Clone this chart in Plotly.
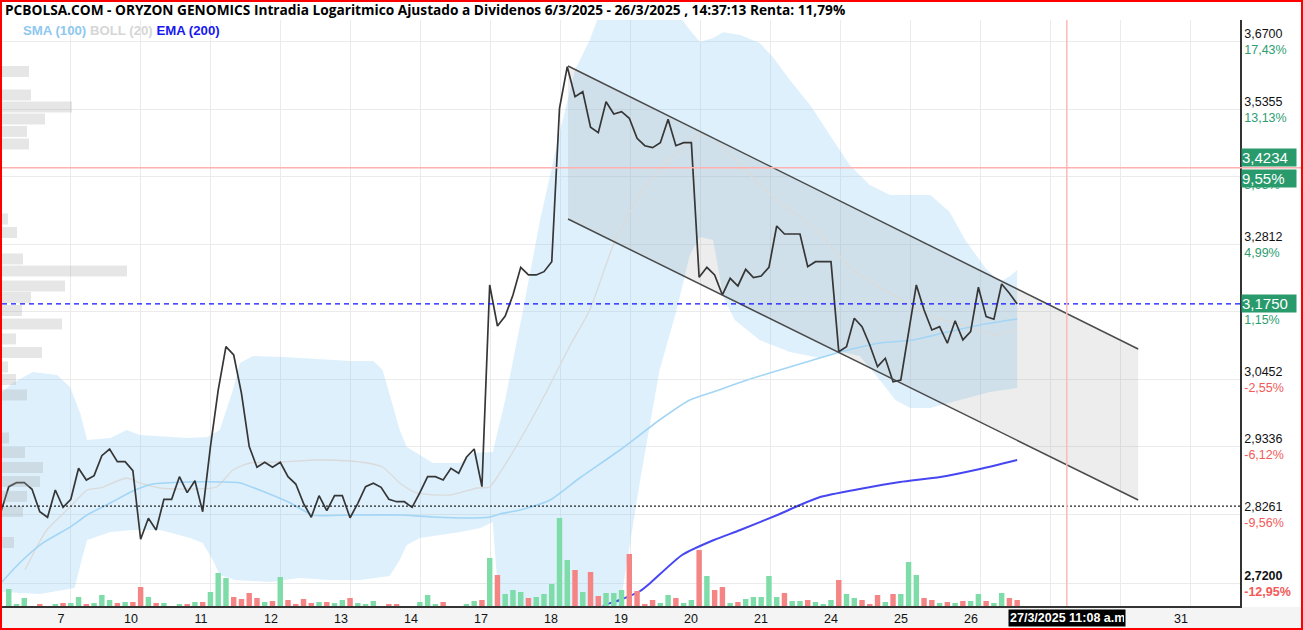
import math
import plotly.graph_objects as go

# ---------------- data ----------------
# hourly closes, bar index 0..131 (6/3/2025 .. 26/3/2025 14:37)
price = [2.8303, 2.8698, 2.8761, 2.8761, 2.8656, 2.8303, 2.8216, 2.8645, 2.8372, 2.8498,
         2.8991, 2.8804, 2.8873, 2.9194, 2.9302, 2.9097, 2.9097, 2.8953, 2.7875, 2.8200,
         2.8018, 2.8498, 2.8498, 2.8857, 2.8603, 2.8793, 2.8303, 2.9340, 3.0274, 3.1008,
         3.0866, 3.0219, 2.9340, 2.9007, 2.9087, 2.9007, 2.9087, 2.8857, 2.8740, 2.8435,
         2.8216, 2.8555, 2.8319, 2.8555, 2.8555, 2.8209, 2.8435, 2.8698, 2.8752, 2.8688,
         2.8498, 2.8460, 2.8460, 2.8372, 2.8603, 2.8857, 2.8857, 2.8804, 2.8991, 2.8911,
         2.9168, 2.9302, 2.8698, 3.2085, 3.1365, 3.1539, 3.1908, 3.2400, 3.2263, 3.2263,
         3.2322, 3.2501, 3.5379, 3.6202, 3.5606, 3.5705, 3.5009, 3.4904, 3.5508, 3.5267,
         3.5312, 3.5184, 3.4797, 3.4654, 3.4616, 3.4712, 3.5164, 3.4654, 3.4712, 3.4712,
         3.2222, 3.2400, 3.2263, 3.1908, 3.2203, 3.2067, 3.2364, 3.2215, 3.2245, 3.2400,
         3.3149, 3.3002, 3.3002, 3.3002, 3.2411, 3.2501, 3.2501, 3.2501, 3.0923, 3.1008,
         3.1499, 3.1353, 3.1037, 3.0667, 3.0810, 3.0413, 3.0442, 3.1239, 3.2085, 3.1644,
         3.1296, 3.1353, 3.1067, 3.1457, 3.1124, 3.1267, 3.2044, 3.1527, 3.1482, 3.2102,
         3.1938, 3.1750]

volume = [0, 17, 2, 8, 0, 2, 0, 2, 3, 3, 9, 2, 3, 11, 6, 3, 4, 4, 19, 9,
          3, 3, 0, 2, 2, 4, 4, 14, 33, 28, 9, 7, 13, 8, 4, 5, 29, 6, 2, 7,
          3, 4, 4, 3, 6, 8, 3, 2, 5, 0, 2, 2, 0, 0, 4, 11, 2, 4, 0, 0,
          2, 5, 6, 48, 31, 12, 16, 14, 8, 9, 12, 22, 88, 46, 36, 14, 34, 10, 13, 13,
          16, 52, 15, 2, 6, 3, 11, 8, 3, 6, 56, 30, 16, 19, 3, 4, 7, 9, 9, 30,
          9, 13, 5, 5, 6, 4, 2, 6, 26, 12, 8, 6, 2, 11, 4, 12, 12, 44, 31, 8,
          6, 3, 4, 3, 5, 5, 12, 5, 3, 13, 8, 6]

vol_up = [1, 1, 1, 1, 1, 0, 1, 1, 0, 1, 1, 0, 1, 1, 1, 0, 1, 0, 0, 1,
          0, 1, 1, 1, 0, 1, 0, 1, 1, 1, 0, 0, 0, 0, 1, 0, 1, 0, 0, 0,
          0, 1, 0, 1, 1, 0, 1, 1, 1, 1, 0, 0, 1, 1, 1, 1, 1, 0, 1, 1,
          1, 1, 0, 1, 0, 1, 1, 1, 0, 1, 1, 1, 1, 1, 0, 1, 0, 0, 1, 1,
          1, 0, 0, 0, 0, 1, 1, 0, 1, 1, 0, 1, 0, 0, 1, 0, 1, 1, 1, 1,
          1, 0, 1, 1, 0, 1, 1, 1, 0, 1, 1, 0, 0, 0, 1, 0, 1, 1, 1, 0,
          0, 1, 0, 1, 0, 1, 1, 0, 1, 1, 0, 0]

# Bollinger (20) upper / lower / middle, SMA(100), EMA(200) sampled at bar index
boll_up_x = [0, 1.5, 4.1, 7.2, 8.9, 10.2, 11.1, 14.1, 16.2, 17.9, 24, 26.6, 28.2, 29.9, 30.8,
             32.5, 36.4, 40.7, 45, 48, 49.2, 51.4, 52.3, 55.7, 59.2, 60.8, 63.4, 65, 67.3, 69.5,
             72.1, 74, 75.9, 77.2, 79.8, 83.7, 86.9, 88.8, 90.1, 91.8, 93.1, 95.3, 97.8, 99.5,
             101.7, 104.3, 106.9, 109.4, 112, 114.6, 117.2, 119.8, 122.3, 124.3, 126.9, 128.8,
             130.1, 131]
boll_up = [3.0224, 3.0392, 3.0577, 3.0527, 3.0325, 2.9891, 2.9448, 2.9480, 2.9612, 2.9530,
           2.9480, 2.9497, 2.9612, 3.0274, 3.0730, 3.0849, 3.0832, 3.0798, 3.0764, 3.0764,
           3.0611, 2.9612, 2.9334, 2.9076, 2.9076, 2.9238, 2.9254, 3.0107, 3.1644, 3.3259,
           3.4957, 3.6136, 3.6741, 3.73, 3.755, 3.755, 3.735, 3.6944, 3.67, 3.678,
           3.690, 3.684, 3.668, 3.6397, 3.5936, 3.5443, 3.4860, 3.4287, 3.3909, 3.3723,
           3.3723, 3.3723, 3.3406, 3.2894, 3.2388, 3.2138, 3.2245, 3.2352]

boll_lo_x = [0, 5, 9.5, 10.4, 11.1, 14.1, 17, 20.5, 24.4, 26, 27.3, 28.2, 30.2, 34.7, 38.5,
             42.4, 46.3, 50.1, 51.4, 52.3, 54, 56.6, 59.2, 61.8, 63.4, 64.3, 66.9, 72.1, 77.2,
             79.8, 82.4, 84.9, 87.1, 88.8, 90.1, 91.8, 93.1, 94.6, 97.8, 101.7, 105.6, 108.2,
             110.7, 113.3, 115.3, 117.2, 119.8, 123.6, 127.5, 131]
boll_lo = [2.7074, 2.7044, 2.7134, 2.7557, 2.7864, 2.7987, 2.8018, 2.8018, 2.7895, 2.7818,
           2.7557, 2.7330, 2.7254, 2.7224, 2.7284, 2.7254, 2.7254, 2.7314, 2.7557, 2.7787,
           2.7895, 2.7941, 2.7987, 2.8049, 2.8143, 2.670, 2.59, 2.55, 2.59, 2.6865,
           2.8804, 3.0611, 3.1644, 3.2622, 3.2948, 3.2894, 3.1872, 3.1469, 3.1123, 3.0917,
           3.0815, 3.0917, 3.0849, 3.0442, 3.0107, 2.9974, 2.9974, 3.0107, 3.0241, 3.0308]

boll_mid_x = [3.1, 4.4, 5.9, 8.9, 11.1, 12.8, 16.2, 17.9, 20.5, 24, 27.8, 29.9, 32.1, 36.4,
              40.7, 45, 47.2, 49.2, 51.4, 53.6, 57.9, 61.4, 63, 64.3, 66.9, 70.1, 73.4, 75.9,
              79.2, 83, 87.1, 90.1, 91.8, 96.2, 100.4, 104.7, 109.8, 115.5, 120.2, 124, 128.4, 131]
boll_mid = [2.7405, 2.7710, 2.8018, 2.8377, 2.8645, 2.8677, 2.8836, 2.8757, 2.8677, 2.8661,
            2.8693, 2.8964, 2.9076, 2.9092, 2.9124, 2.9108, 2.9076, 2.9012, 2.8757, 2.8598,
            2.8566, 2.8677, 2.8693, 2.8916, 2.9448, 3.0191, 3.1037, 3.1644, 3.2894, 3.3872,
            3.4515, 3.4879, 3.4802, 3.4154, 3.3573, 3.3131, 3.2352, 3.1872, 3.1522, 3.1383,
            3.1209, 3.1313]

sma_x = [0, 2.4, 5.4, 8.9, 11.1, 14.1, 17, 19.6, 24, 28.6, 30.8, 34.3, 37.3, 40.2, 45, 51.4,
         55.7, 60.1, 63, 64.3, 66.9, 70.8, 74.6, 79.8, 84.9, 88.8, 91.8, 96.2, 100.4, 104.7,
         108.2, 113.3, 117.6, 122, 126.2, 131]
sma_100 = [2.7209, 2.7511, 2.7818, 2.8064, 2.8252, 2.8440, 2.8629, 2.8740, 2.8772, 2.8772,
           2.8757, 2.8598, 2.8440, 2.8252, 2.8252, 2.8252, 2.8221, 2.8205, 2.8221, 2.8268,
           2.8330, 2.8487, 2.8836, 2.9286, 2.9776, 3.0107, 3.0241, 3.0442, 3.0611, 3.0781,
           3.0917, 3.1072, 3.1123, 3.1261, 3.1383, 3.1487]

ema_x = [74, 77.7, 79.8, 82.4, 83.7, 87.8, 91.9, 95.3, 100.4, 103, 105.6, 110.7, 115.9, 121.1, 126.2, 131]
ema_200 = [2.6325, 2.6865, 2.6954, 2.7089, 2.7209, 2.7634, 2.7864, 2.8018, 2.8268, 2.8409,
           2.8535, 2.8661, 2.8772, 2.8852, 2.8980, 2.9124]

# descending channel (bar index, price)
chan_x = [73.1, 146.6]
chan_upper = [3.6216, 3.0969]
chan_lower = [3.3277, 2.8487]

# volume profile on the left (price level, volume)
vp_price = [3.6106, 3.5640, 3.5404, 3.5170, 3.4928, 3.4687, 3.3278, 3.3030, 3.2550, 3.2335,
            3.2067, 3.1864, 3.1635, 3.1400, 3.1141, 3.0909, 3.0662, 3.0451, 3.0191, 2.9481,
            2.9246, 2.9004, 2.8780, 2.8543, 2.8307, 2.7825]
vp_vol = [27, 29, 70, 43, 25, 27, 6, 15, 21, 125, 63, 29, 20, 60, 14, 40, 6, 14, 25, 7,
          23, 41, 38, 25, 21, 12]

last_price = 3.1750
last_tag = "3,1750"
ref_high = 3.4234
ref_high_tag = "3,4234"
ref_high_pct = "9,55%"
ref_low = 2.8390
now_x = 137.4
now_label = "27/3/2025 11:08 a.m."

# day labels under the grid; 27 and 28 are hidden under the date box in the reference
day_labels = ["7", "10", "11", "12", "13", "14", "17", "18", "19", "20", "21", "24", "25",
              "26", "", "", "31"]

y_ticks = [3.67, 3.5355, 3.4060, 3.2812, 3.1609, 3.0452, 2.9336, 2.8261, 2.72]
# price texts of 3.4060 and 3.1609 are fully covered by the price tags in the reference
y_tick_num = ["3,6700", "3,5355", " ", "3,2812", " ", "3,0452", "2,9336", "2,8261", "2,7200"]
y_tick_pct = ["17,43%", "13,13%", "8,98%", "4,99%", "1,15%", "-2,55%", "-6,12%", "-9,56%", "-12,95%"]

title_text = ("PCBOLSA.COM - ORYZON GENOMICS Intradia Logaritmico Ajustado a Dividenos "
              "6/3/2025 - 26/3/2025 , 14:37:13 Renta: 11,79%")

# ---------------- figure ----------------
W, H = 1303, 630
ML, MR, MT, MB = 2, 63, 20, 24
PW, PH = W - ML - MR, H - MT - MB
BAR_PX = 7.757          # pixels per hourly bar
DAY_PX = 70             # pixels per trading day
x_lo = (ML - 1) / BAR_PX
x_hi = (ML + PW - 1) / BAR_PX
day_ticks = [(DAY_PX * k - 1) / BAR_PX for k in range(1, len(day_labels) + 1)]

GREEN_T = "#2e9d70"
GREEN_TAG = "#289a6c"
RED_T = "#f25a5a"
FONT = "Liberation Sans"

fig = go.Figure()

# Bollinger band fill
fig.add_trace(go.Scatter(
    x=boll_up_x + boll_lo_x[::-1], y=boll_up + boll_lo[::-1],
    fill="toself", fillcolor="rgba(130,198,245,0.27)", mode="lines",
    line=dict(width=0), hoverinfo="skip"))

# channel fill
fig.add_trace(go.Scatter(
    x=[chan_x[0], chan_x[1], chan_x[1], chan_x[0]],
    y=[chan_upper[0], chan_upper[1], chan_lower[1], chan_lower[0]],
    fill="toself", fillcolor="rgba(140,140,140,0.16)", mode="lines",
    line=dict(width=0), hoverinfo="skip"))

fig.add_trace(go.Scatter(x=boll_mid_x, y=boll_mid, mode="lines",
                         line=dict(color="#dadada", width=1.3, shape="spline", smoothing=0.6)))
fig.add_trace(go.Scatter(x=sma_x, y=sma_100, mode="lines",
                         line=dict(color="#a3d5f5", width=1.6, shape="spline", smoothing=0.6)))
fig.add_trace(go.Scatter(x=ema_x, y=ema_200, mode="lines",
                         line=dict(color="#4646f2", width=2, shape="spline", smoothing=0.6)))

fig.add_trace(go.Scatter(x=list(range(len(price))), y=price, mode="lines",
                         line=dict(color="#363636", width=1.7)))

fig.add_trace(go.Scatter(x=chan_x, y=chan_upper, mode="lines", line=dict(color="#4a4a4a", width=1.5)))
fig.add_trace(go.Scatter(x=chan_x, y=chan_lower, mode="lines", line=dict(color="#4a4a4a", width=1.5)))

# volume bars (overlaid axis)
fig.add_trace(go.Bar(
    x=list(range(len(volume))), y=volume, yaxis="y2", width=0.7,
    marker=dict(color=["#7ddca8" if u else "#f58484" for u in vol_up], line=dict(width=0))))

# volume profile (overlaid x axis)
vpx, vpy = [], []
for p, v in zip(vp_price, vp_vol):
    vpx += [0, v, None]
    vpy += [p, p, None]
fig.add_trace(go.Scatter(x=vpx, y=vpy, xaxis="x3", mode="lines",
                         line=dict(color="rgba(165,165,165,0.28)", width=11), hoverinfo="skip"))

tick_text = []
for i, (n, p) in enumerate(zip(y_tick_num, y_tick_pct)):
    col = GREEN_T if not p.startswith("-") else RED_T
    if i == len(y_tick_num) - 1:
        tick_text.append(f"<b>{n}</b><br><span style='color:{col}'><b>{p}</b></span>")
    else:
        tick_text.append(f"{n}<br><span style='color:{col}'>{p}</span>")

fig.update_layout(
    width=W, height=H, margin=dict(l=ML, r=MR, t=MT, b=MB),
    paper_bgcolor="white", plot_bgcolor="white", showlegend=False,
    font=dict(family=FONT, size=12.5, color="#111"),
    xaxis=dict(range=[x_lo, x_hi], tickvals=day_ticks, ticktext=day_labels, ticklabelshift=-9,
               showgrid=True, gridcolor="#ebebeb", gridwidth=1, zeroline=False,
               showline=True, linecolor="#333", linewidth=1.5, ticks="",
               tickfont=dict(family=FONT, size=12.5, color="#111")),
    yaxis=dict(type="log", range=[math.log10(2.6865), math.log10(3.7149)], side="right",
               tickvals=y_ticks, ticktext=tick_text, showgrid=True, gridcolor="#ebebeb",
               zeroline=False, showline=True, linecolor="#333", linewidth=1.5, ticks="",
               tickfont=dict(family=FONT, size=12.5, color="#111")),
    yaxis2=dict(overlaying="y", range=[0, PH], visible=False),
    xaxis3=dict(overlaying="x", range=[0, PW], visible=False),
)

def px_x(px):
    return (px - ML) / PW

def px_y(py):
    return (H - MB - py) / PH

shapes = [
    # x-axis label strip
    dict(type="rect", xref="paper", yref="paper", x0=px_x(0), x1=px_x(W), y0=px_y(H), y1=px_y(607),
         fillcolor="#f4f4f4", line=dict(width=0), layer="below"),
    dict(type="line", xref="paper", yref="y", x0=0, x1=px_x(W), y0=ref_high, y1=ref_high,
         line=dict(color="#ffb0b0", width=1.5)),
    dict(type="line", xref="paper", yref="y", x0=0, x1=1, y0=last_price, y1=last_price,
         line=dict(color="#1010ff", width=1.3, dash="5px,4px")),
    dict(type="line", xref="paper", yref="y", x0=0, x1=1, y0=ref_low, y1=ref_low,
         line=dict(color="#222", width=1.3, dash="2px,2px")),
    dict(type="line", xref="x", yref="paper", x0=now_x, x1=now_x, y0=0, y1=1,
         line=dict(color="#ffb8b8", width=1.5)),
    # outer red border
    dict(type="rect", xref="paper", yref="paper", x0=px_x(1), x1=px_x(W - 1), y0=px_y(H - 1), y1=px_y(1),
         line=dict(color="#ff0000", width=2), fillcolor="rgba(0,0,0,0)"),
]
fig.update_layout(shapes=shapes)

# annotations on a log axis take log10 positions
ly_high = math.log10(ref_high)
ly_last = math.log10(last_price)

ann = [
    dict(xref="paper", yref="paper", x=px_x(3), y=px_y(10), xanchor="left", yanchor="middle",
         text=f"<b>{title_text}</b>", showarrow=False,
         font=dict(family="Open Sans", size=13.7, color="#000")),
    dict(xref="paper", yref="paper", x=px_x(21), y=px_y(30), xanchor="left", yanchor="middle",
         text="<b><span style='color:#8ec8f0'>SMA (100)</span> <span style='color:#d6d6d6'>BOLL (20)</span> "
              "<span style='color:#1818f0'>EMA (200)</span></b>",
         showarrow=False, font=dict(family=FONT, size=13.2)),
    dict(xref="paper", yref="y", x=px_x(1241), y=ly_high, xanchor="left", yanchor="bottom",
         text=ref_high_tag, showarrow=False, bgcolor=GREEN_TAG, width=54, borderpad=0, align="left",
         font=dict(family=FONT, size=15, color="white"), yshift=1),
    dict(xref="paper", yref="y", x=px_x(1241), y=ly_high, xanchor="left", yanchor="top",
         text=ref_high_pct, showarrow=False, bgcolor=GREEN_TAG, width=54, borderpad=0, align="left",
         font=dict(family=FONT, size=15, color="white"), yshift=-1),
    dict(xref="paper", yref="y", x=px_x(1241), y=ly_last, xanchor="left", yanchor="middle",
         text=last_tag, showarrow=False, bgcolor=GREEN_TAG, width=54, borderpad=0, align="left",
         font=dict(family=FONT, size=15, color="white")),
    dict(xref="x", yref="paper", x=now_x, y=px_y(618), xanchor="center", yanchor="middle",
         text=f"<b>{now_label}</b>", showarrow=False, bgcolor="#000", width=114, align="left",
         borderpad=1, font=dict(family=FONT, size=12.5, color="white")),
]
fig.update_layout(annotations=ann)

fig.write_html("out.html")
